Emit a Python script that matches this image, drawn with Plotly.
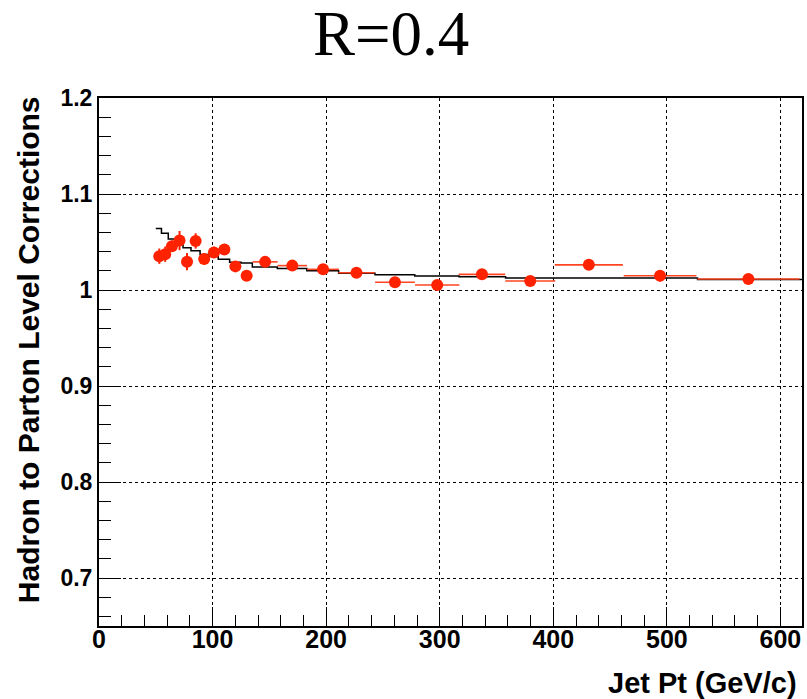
import plotly.graph_objects as go

# Data points (hadron-to-parton corrections)
pt = [53.1, 58.3, 64.2, 70.9, 77.5, 85.1, 92.6, 101.2, 110.4, 120.1, 130.0,
      146.3, 170.2, 197.3, 226.7, 260.6, 297.8, 337.2, 379.7, 431.3, 494.0, 571.8]
pt_err = [2.5, 2.7, 3.0, 3.5, 3.5, 4.0, 4.0, 4.0, 5.0, 5.0, 5.0,
          11.0, 13.0, 14.0, 16.0, 17.5, 19.5, 20.5, 22.0, 30.0, 32.0, 45.0]
corr = [1.0352, 1.0373, 1.0456, 1.0515, 1.0295, 1.0511, 1.0324, 1.0391, 1.0423, 1.0246, 1.0148,
        1.0293, 1.0254, 1.0215, 1.0179, 1.0080, 1.0052, 1.0163, 1.0093, 1.0262, 1.0148, 1.0114]
corr_err = [0.008, 0.008, 0.006, 0.010, 0.009, 0.008, 0.006, 0.006, 0.005, 0.005, 0.005,
            0.004, 0.004, 0.003, 0.003, 0.003, 0.003, 0.004, 0.004, 0.004, 0.006, 0.005]

# Step histogram (black line)
hist_edges = [50, 55, 61, 67, 74, 81, 89, 97, 105, 115, 125, 135, 157, 183, 211,
              243, 278, 317, 358, 527, 619]
hist_vals = [1.064, 1.059, 1.053, 1.048, 1.044, 1.041, 1.037, 1.035, 1.032, 1.029,
             1.028, 1.024, 1.0225, 1.020, 1.0175, 1.0158, 1.0145, 1.0138, 1.0125, 1.011]

x_ticks = [0, 100, 200, 300, 400, 500, 600]
y_ticks = [0.7, 0.8, 0.9, 1.0, 1.1, 1.2]
y_ticktext = ["0.7", "0.8", "0.9", "1", "1.1", "1.2"]

red = "#ff2200"

L, R, T, B = 99, 3, 98, 73
PW, PH = 807 - L - R, 699 - T - B


def px(xp):
    return (xp - L) / PW


def py(yp):
    return (699 - B - yp) / PH


fig = go.Figure()
fig.add_trace(go.Scatter(
    x=hist_edges, y=hist_vals + [hist_vals[-1]], mode="lines",
    line=dict(color="black", width=1.5, shape="hv"), showlegend=False,
    hoverinfo="skip"))
fig.add_trace(go.Scatter(
    x=pt, y=corr, mode="markers",
    marker=dict(color=red, size=12),
    error_x=dict(type="data", array=pt_err, color="#ff4422", thickness=1.6, width=0),
    error_y=dict(type="data", array=corr_err, color=red, thickness=2, width=0),
    showlegend=False))

fig.update_layout(
    width=807, height=699,
    margin=dict(l=L, r=R, t=T, b=B),
    plot_bgcolor="white", paper_bgcolor="white",
    showlegend=False,
    xaxis=dict(
        range=[0, 619], tickvals=x_ticks,
        ticks="inside", ticklen=19, tickwidth=1, tickcolor="black",
        minor=dict(dtick=20, tick0=0, ticks="inside", ticklen=11, tickcolor="black", showgrid=False),
        showgrid=True, gridcolor="black", griddash="dot", gridwidth=1,
        showline=True, linecolor="black", linewidth=2, mirror=True, zeroline=False,
        ticklabelstandoff=-10,
        tickfont=dict(family="Liberation Sans", size=25, color="black", weight="bold"),
    ),
    yaxis=dict(
        range=[0.65, 1.2], tickvals=y_ticks, ticktext=y_ticktext,
        ticks="inside", ticklen=22, tickwidth=1, tickcolor="black",
        minor=dict(dtick=0.02, tick0=0.7, ticks="inside", ticklen=12, tickcolor="black", showgrid=False),
        showgrid=True, gridcolor="black", griddash="dot", gridwidth=1,
        showline=True, linecolor="black", linewidth=2, mirror=True, zeroline=False,
        tickfont=dict(family="Liberation Sans", size=23, color="black", weight="bold"),
    ),
    annotations=[
        dict(text="R=0.4", xref="paper", yref="paper", x=px(391.5), y=py(34),
             xanchor="center", yanchor="middle", showarrow=False,
             font=dict(family="Liberation Serif", size=63, color="black")),
        dict(text="Hadron to Parton Level Corrections", xref="paper", yref="paper",
             x=px(28), y=py(350), textangle=-90,
             xanchor="center", yanchor="middle", showarrow=False,
             font=dict(family="Liberation Sans", size=30, color="black", weight="bold")),
        dict(text="Jet Pt (GeV/c)", xref="paper", yref="paper",
             x=px(801), y=py(683),
             xanchor="right", yanchor="middle", showarrow=False,
             font=dict(family="Liberation Sans", size=29, color="black", weight="bold")),
    ],
)

fig.write_html("out.html")
